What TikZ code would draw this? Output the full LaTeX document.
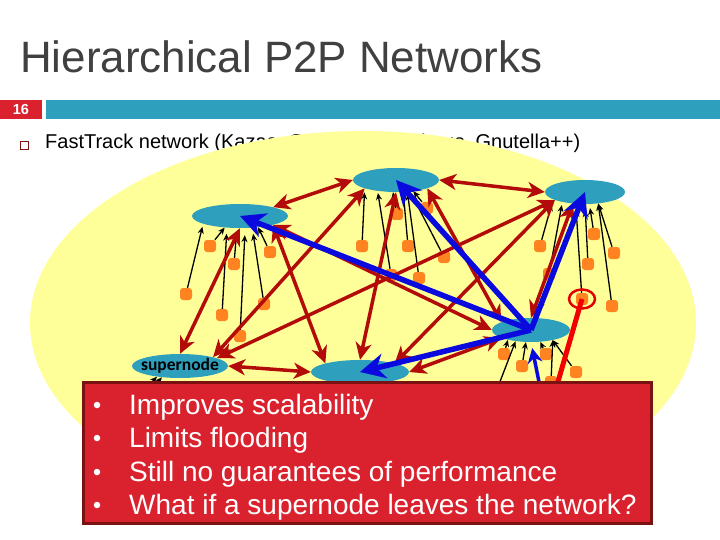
\documentclass[tikz,border=0pt]{standalone}
\usepackage{fontspec}
\setmainfont{Liberation Sans}
\newfontfamily\labelfont{Carlito}
\usetikzlibrary{arrows.meta,shapes.geometric}
\definecolor{teal1}{HTML}{2E9FBD}
\definecolor{red1}{HTML}{D9222E}
\definecolor{red2}{HTML}{7A1212}
\definecolor{link1}{HTML}{B30A0A}
\definecolor{blue1}{HTML}{0A0ADE}
\definecolor{orange1}{HTML}{FF8421}
\definecolor{yellow1}{HTML}{FFFF99}
\begin{document}
\begin{tikzpicture}[
    x=1pt, y=-1pt,
    supernode/.style={
        ellipse, fill=teal1,
        inner sep=0pt,
        minimum height=24pt
    },
    leaf/.style={
        rectangle, rounded corners=3pt, fill=orange1,
        inner sep=0pt,
        minimum size=12pt
    },
    peerlink/.style={-{Stealth[length=7pt,width=6pt]}, black, line width=1.3pt},
    superlink/.style={
        {Stealth[length=17pt,width=16pt,inset=5pt]}-{Stealth[length=17pt,width=16pt,inset=5pt]},
        link1, line width=3.5pt
    },
    querylink/.style={-{Stealth[length=25pt,width=25pt,inset=8pt]}, blue1, line width=5.5pt},
    boxtext/.style={anchor=base west, text=white, inner sep=0pt, font=\fontsize{28}{30}\selectfont}
]
\useasboundingbox (0,0) rectangle (720,540);

\node[anchor=base west, inner sep=0pt, text=black!75, font=\fontsize{43.9}{48}\selectfont] (title) at (20,73) {Hierarchical P2P Networks};
\node[fill=red1, minimum width=42pt, minimum height=19pt, inner sep=0pt, text=white,
      font=\fontsize{14.5}{16}\bfseries\selectfont] (page) at (21,109.5) {16};
\node[fill=teal1, minimum width=674pt, minimum height=19pt, inner sep=0pt] (bar) at (383,109.5) {};
\node[draw=red2, line width=0.8pt, minimum size=8pt, inner sep=0pt] (check) at (24.5,145) {};
\node[anchor=base west, inner sep=0pt, font=\fontsize{20}{24}\selectfont] (head) at (45,148.5) {FastTrack network (Kazaa, Grokster, Morpheus, Gnutella++)};

\node[ellipse, fill=yellow1, minimum width=666pt, minimum height=384pt, inner sep=0pt] (cloud) at (363,323) {};

% supernodes
\node[supernode, minimum width=96pt] (a) at (240,216) {};
\node[supernode, minimum width=86pt] (b) at (396,180) {};
\node[supernode, minimum width=80pt] (c) at (585,192) {};
\node[supernode, minimum width=78pt] (d) at (531,330) {};
\node[supernode, minimum width=98pt] (e) at (360,372) {};
\node[supernode, minimum width=96pt, font=\labelfont\fontsize{17.5}{18}\bfseries\selectfont] (f) at (180,366) {\makebox[0pt]{supernode}};

% ordinary peers
\foreach \name/\x/\y in {a1/210/246, a2/234/264, a3/270/252, a4/186/294, a5/222/315, a6/264/304, a7/240/336,
    b1/362/246, b2/391/275, b3/397/214, b4/408/246, b5/419/278, b6/444/257, b7/427/208,
    c1/540/246, c2/549/274, c3/594/234, c4/588/264, c5/582/299, c6/614/253, c7/612/306,
    d1/504/354, d2/522/366, d3/546/354, d4/576/372, d5/551/382}
    \node[leaf] (\name) at (\x,\y) {};

\coordinate (d0) at (496,392);
\coordinate (f1) at (142,392);
\coordinate (f2) at (149,392);
\coordinate (bluefoot) at (541,392);
\coordinate (redfoot) at (555,392);

\foreach \from/\to/\gap in {a1/a.217/0, a2/a.256/8, a3/a.-32/0, a4/a.192/3, a5/a.222/6, a6/a.-44/6, a7/a.-67/7,
    b1/b.195/4, b2/b.211/2, b3/b.256/0, b4/b.-59/1, b5/b.-46/2, b6/b.-39/3, b7/b.-33/0,
    c1/c.193/5, c2/c.204/3, c3/c.-70/4, c4/c.-90/6, c5/c.232/6, c6/c.-41/0, c7/c.-41/0,
    d0/d.216/0, d1/d.203/0, d2/d.247/0, d3/d.-52/0, d4/d.-25/0, d5/d.-25/0,
    f1/f.205/0, f2/f.212/0}
    \draw[peerlink, shorten >=\gap pt] (\from) -- (\to);

\foreach \from/\to in {f.north/a.south, f.15/b.195, f.12/c.195, f.east/e.west, a.15/b.west, a.-15/e.166,
    a.-15/d.west, b.east/c.west, b.-15/d.165, b.south/e.north, c.195/e.14, c.224/d.north, d.195/e.east}
    \draw[superlink] (\from) -- (\to);

% the query
\foreach \to in {a,b,c,e}
    \draw[querylink] (d.center) -- (\to.center);
\draw[querylink, line width=3.5pt, -{Stealth[length=15pt,width=15pt,inset=5pt]}, shorten >=6pt] (bluefoot) -- (d.south);

\node[draw=red!90!black, line width=2.5pt, ellipse, minimum width=26pt, minimum height=19pt, inner sep=0pt] (ring) at (c5) {};
\draw[red!95!black, line width=5pt] (redfoot) -- (c5.center);

\node[fill=red1, draw=red2, line width=3.5pt, minimum width=568pt, minimum height=141pt, inner sep=0pt] (box) at (367.5,453) {};
\foreach \name/\y/\txt in {l1/414/Improves scalability, l2/447/Limits flooding,
    l3/481/Still no guarantees of performance, l4/514/What if a supernode leaves the network?}{
    \node[boxtext] (\name) at (129,\y) {\txt};
    \node[circle, fill=white, minimum size=6.5pt, inner sep=0pt] (\name b) at (97,\y-9) {};
}
\end{tikzpicture}
\end{document}
